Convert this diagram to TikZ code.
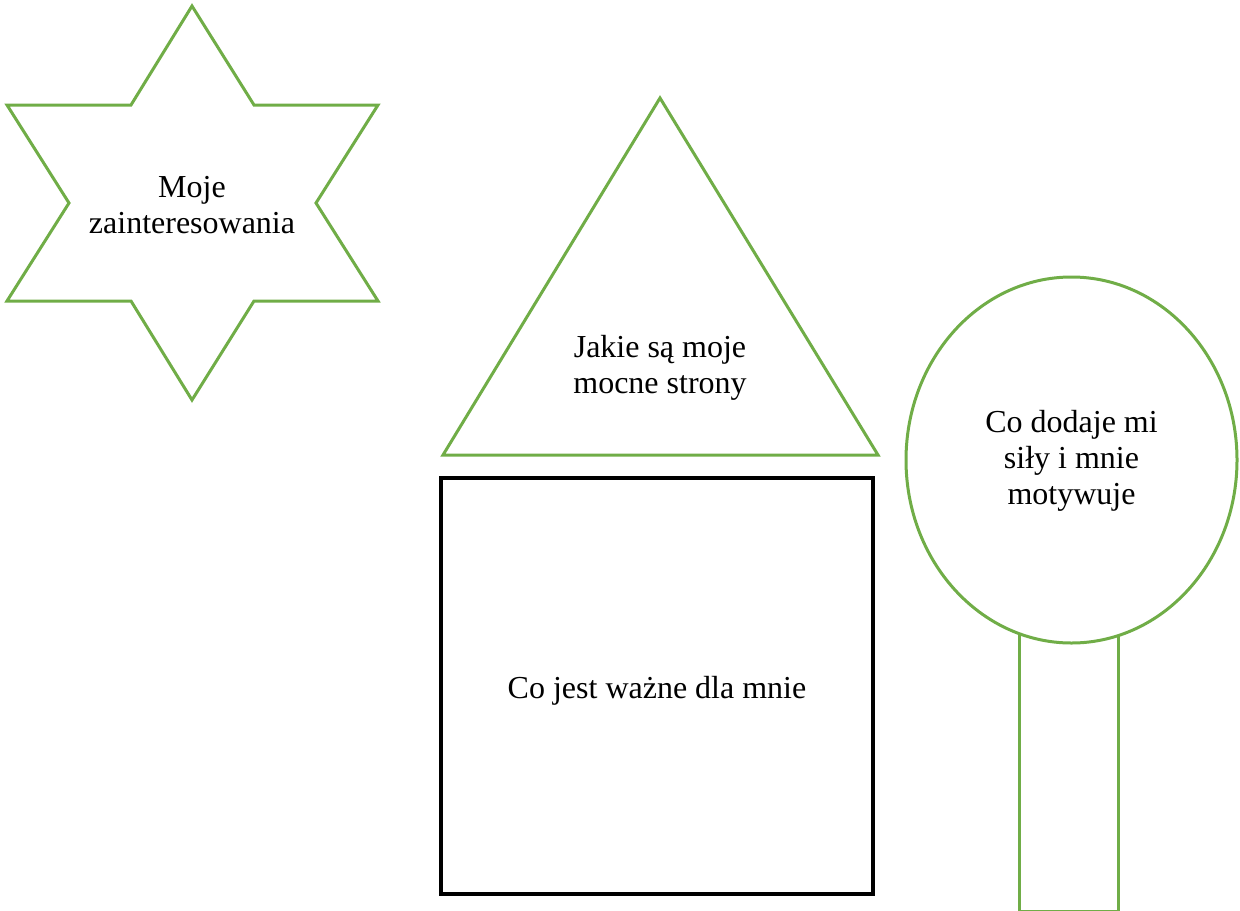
\documentclass[tikz,border=0pt]{standalone}
\usepackage{fontspec}
\setmainfont{Liberation Serif}
\definecolor{shapegreen}{HTML}{70AD47}
\begin{document}
\begin{tikzpicture}[x=0.5pt,y=-0.5pt,
  greenline/.style={draw=shapegreen,line width=1.5pt,line join=miter},
  blackline/.style={draw=black,line width=1.6pt},
  label/.style={font=\fontsize{16}{18}\selectfont,align=center,inner sep=0pt,anchor=base}]
\useasboundingbox (0,0) rectangle (1240,910);
% star
\draw[greenline] (192,6) -- (254,105) -- (378,105) -- (316,203) -- (378,301) -- (254,301)
  -- (192,400) -- (131,301) -- (7,301) -- (69,203) -- (7,105) -- (131,105) -- cycle;
\node[label] (star) at (192,233) {Moje\\zainteresowania};
% triangle
\draw[greenline] (660,98) -- (878,455) -- (443,455) -- cycle;
\node[label] (tri) at (660,393) {Jakie są moje\\mocne strony};
% square
\draw[blackline] (441,478) rectangle (873,894);
\node[label] (sq) at (657,698) {Co jest ważne dla mnie};
% stick and ellipse
\draw[greenline] (1019,600) rectangle (1118,911);
\draw[greenline,fill=white] (1071.5,460) ellipse [x radius=165.5,y radius=183];
\node[label] (ell) at (1071.5,504) {Co dodaje mi\\siły i mnie\\motywuje};
\end{tikzpicture}
\end{document}
